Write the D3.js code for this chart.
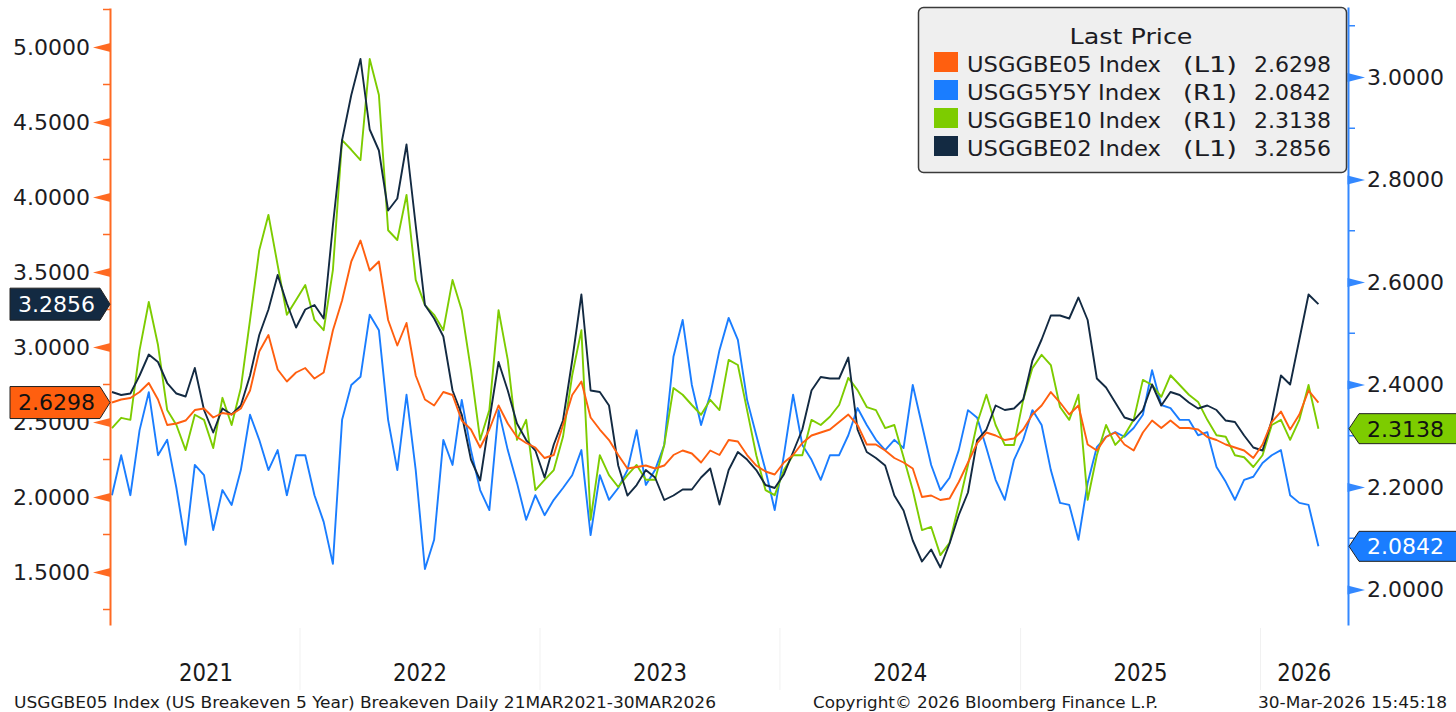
<!DOCTYPE html>
<html><head><meta charset="utf-8">
<script src="https://cdn.jsdelivr.net/npm/d3@7"></script>
<style>body{margin:0;background:#fff;overflow:hidden}</style>
</head><body><svg id="chart" width="1456" height="712"></svg>
<script>
// ---------- data ----------
const startDate = "2021-03-21";
const stepDays = 14;
const lastDate = "2026-03-30";
const seriesNames = ["USGGBE05 Index", "USGG5Y5Y Index", "USGGBE10 Index", "USGGBE02 Index"];
const seriesAxis = ["(L1)", "(R1)", "(R1)", "(L1)"];
const lastPrices = [2.6298, 2.0842, 2.3138, 3.2856];
const leftTicks = [1.5, 2.0, 2.5, 3.0, 3.5, 4.0, 4.5, 5.0];
const leftMinorTicks = [1.25, 1.75, 2.25, 2.75, 3.25, 3.75, 4.25, 4.75, 5.25];
const rightTicks = [2.0, 2.2, 2.4, 2.6, 2.8, 3.0];
const rightMinorTicks = [2.1, 2.3, 2.5, 2.7, 2.9, 3.1];
const years = ["2021", "2022", "2023", "2024", "2025", "2026"];

// USGGBE05 (left axis)
const be05 = [
 2.63,2.65,2.66,2.70,2.76,2.65,2.48,2.49,2.51,2.58,
 2.59,2.53,2.56,2.55,2.59,2.71,2.97,3.08,2.85,2.77,
 2.83,2.86,2.79,2.83,3.11,3.31,3.57,3.71,3.51,3.57,
 3.18,3.01,3.16,2.81,2.65,2.61,2.70,2.68,2.51,2.45,
 2.33,2.45,2.61,2.49,2.40,2.36,2.33,2.26,2.28,2.48,
 2.68,2.77,2.53,2.45,2.38,2.28,2.19,2.20,2.21,2.19,
 2.21,2.28,2.31,2.29,2.23,2.31,2.28,2.38,2.37,2.28,
 2.21,2.17,2.15,2.23,2.28,2.36,2.41,2.43,2.45,2.50,
 2.55,2.48,2.35,2.35,2.31,2.26,2.23,2.19,2.00,2.01,
 1.98,1.99,2.10,2.23,2.36,2.43,2.41,2.38,2.39,2.45,
 2.55,2.61,2.70,2.63,2.55,2.61,2.35,2.31,2.40,2.43,
 2.35,2.31,2.43,2.51,2.46,2.51,2.46,2.46,2.45,2.40,
 2.38,2.35,2.33,2.31,2.26,2.35,2.50,2.57,2.45,2.55,
 2.71,2.6298];
// USGG5Y5Y (right axis)
const g5y5y = [
 2.184,2.262,2.184,2.311,2.385,2.262,2.292,2.198,2.087,2.243,
 2.223,2.116,2.194,2.165,2.233,2.341,2.292,2.233,2.272,2.184,
 2.262,2.262,2.184,2.132,2.050,2.331,2.399,2.415,2.536,2.506,
 2.331,2.233,2.380,2.233,2.040,2.097,2.292,2.243,2.370,2.272,
 2.194,2.155,2.350,2.272,2.208,2.136,2.184,2.145,2.175,2.198,
 2.223,2.272,2.106,2.223,2.175,2.198,2.233,2.311,2.204,2.233,
 2.282,2.454,2.526,2.399,2.321,2.380,2.467,2.530,2.487,2.370,
 2.301,2.233,2.155,2.262,2.380,2.282,2.253,2.214,2.262,2.262,
 2.301,2.354,2.321,2.292,2.272,2.292,2.276,2.399,2.321,2.243,
 2.194,2.218,2.272,2.350,2.335,2.276,2.214,2.175,2.253,2.292,
 2.350,2.321,2.233,2.169,2.165,2.097,2.208,2.278,2.298,2.307,
 2.298,2.315,2.341,2.428,2.360,2.354,2.331,2.331,2.301,2.307,
 2.239,2.210,2.175,2.214,2.220,2.247,2.262,2.272,2.184,2.169,
 2.165,2.0842];
// USGGBE10 (right axis)
const be10 = [
 2.315,2.335,2.331,2.467,2.561,2.477,2.350,2.321,2.272,2.341,
 2.331,2.276,2.374,2.321,2.393,2.526,2.662,2.731,2.633,2.536,
 2.565,2.594,2.526,2.506,2.623,2.877,2.858,2.838,3.035,2.965,
 2.701,2.682,2.770,2.604,2.555,2.536,2.506,2.604,2.545,2.428,
 2.292,2.350,2.545,2.448,2.292,2.331,2.194,2.214,2.233,2.298,
 2.418,2.506,2.136,2.262,2.223,2.200,2.223,2.243,2.214,2.214,
 2.282,2.393,2.380,2.360,2.341,2.370,2.350,2.448,2.438,2.350,
 2.262,2.194,2.184,2.233,2.262,2.262,2.331,2.321,2.337,2.360,
 2.413,2.389,2.356,2.350,2.315,2.321,2.258,2.194,2.116,2.122,
 2.067,2.091,2.165,2.243,2.325,2.380,2.321,2.282,2.282,2.370,
 2.432,2.458,2.438,2.356,2.331,2.380,2.175,2.262,2.321,2.282,
 2.301,2.331,2.409,2.399,2.376,2.418,2.399,2.380,2.366,2.331,
 2.301,2.298,2.262,2.258,2.239,2.262,2.321,2.331,2.292,2.331,
 2.399,2.3138];
// USGGBE02 (left axis)
const be02 = [
 2.70,2.68,2.69,2.81,2.95,2.90,2.76,2.69,2.67,2.86,
 2.58,2.43,2.59,2.55,2.61,2.81,3.08,3.25,3.48,3.29,
 3.13,3.25,3.28,3.19,3.81,4.38,4.68,4.92,4.45,4.31,
 3.91,3.99,4.35,3.81,3.28,3.19,3.07,2.71,2.55,2.25,
 2.11,2.51,2.90,2.71,2.49,2.38,2.31,2.13,2.35,2.51,
 2.91,3.35,2.71,2.70,2.61,2.21,2.01,2.08,2.18,2.13,
 1.98,2.01,2.05,2.05,2.13,2.19,1.95,2.18,2.30,2.25,
 2.18,2.08,2.06,2.15,2.30,2.45,2.71,2.80,2.79,2.79,
 2.93,2.45,2.30,2.26,2.21,2.01,1.91,1.71,1.57,1.65,
 1.53,1.69,1.88,2.03,2.38,2.45,2.61,2.58,2.59,2.65,
 2.91,3.05,3.21,3.21,3.19,3.33,3.18,2.79,2.73,2.63,
 2.53,2.51,2.58,2.75,2.61,2.70,2.68,2.63,2.59,2.61,
 2.58,2.51,2.50,2.41,2.33,2.31,2.51,2.81,2.75,3.05,
 3.35,3.2856];

// ---------- setup ----------
const colors = ["#ff5f0f", "#1a7dff", "#7dcc00", "#132a42"];
const tagText = ["#111", "#fff", "#111", "#fff"];
const svg = d3.select("#chart");
const parse = d3.utcParse("%Y-%m-%d");
const dates = be05.map((_, i) => i === be05.length - 1 ? parse(lastDate) : d3.utcDay.offset(parse(startDate), i * stepDays));

const x = d3.scaleUtc().domain([parse("2021-03-18"), parse("2026-05-14")]).range([110, 1348]);
const yL = d3.scaleLinear().domain([1.1467, 5.26]).range([625, 8]);
const yR = d3.scaleLinear().domain([1.9307, 3.1366]).range([625, 7]);

const FONT = "'DejaVu Sans', Verdana, sans-serif";
const NARROW = "'Liberation Sans Narrow', 'DejaVu Sans Condensed', 'Arial Narrow', sans-serif";

// year separators
const yearStarts = years.map(y => parse(y + "-01-01"));
svg.append("g").selectAll("line").data(yearStarts.slice(1)).join("line")
  .attr("x1", d => x(d)).attr("x2", d => x(d)).attr("y1", 628).attr("y2", 690)
  .attr("stroke", "#f1f1f1").attr("stroke-width", 1);

// year labels
const xmin = x(dates[0]), xmax = x.range()[1];
svg.append("g").selectAll("text").data(years).join("text")
  .attr("x", (d, i) => {
    const a = Math.max(xmin, x(yearStarts[i]));
    const b = Math.min(xmax, x(parse((+d + 1) + "-01-01")));
    return (a + b) / 2;
  })
  .attr("y", 681).attr("text-anchor", "middle")
  .attr("font-family", NARROW).attr("font-size", 25).attr("fill", "#1a1a1a")
  .attr("textLength", 54).attr("lengthAdjust", "spacingAndGlyphs")
  .text(d => d);

// lines
const clip = svg.append("clipPath").attr("id", "clip").append("rect")
  .attr("x", 110).attr("y", 7).attr("width", 1238).attr("height", 619);
const seriesData = [be05, g5y5y, be10, be02];
const seriesScale = [yL, yR, yR, yL];
const drawOrder = [1, 2, 3, 0];
const lg = svg.append("g").attr("clip-path", "url(#clip)");
drawOrder.forEach(k => {
  const sc = seriesScale[k];
  const line = d3.line().x((d, i) => x(dates[i])).y(d => sc(d));
  lg.append("path").datum(seriesData[k]).attr("d", line)
    .attr("fill", "none").attr("stroke", colors[k]).attr("stroke-width", 1.9)
    .attr("stroke-linejoin", "round");
});

// left axis
const axL = svg.append("g").attr("transform", "translate(110,0)")
  .call(d3.axisLeft(yL).tickValues(leftTicks).tickSize(0).tickSizeOuter(0).tickPadding(20).tickFormat(d3.format(".4f")));
axL.select(".domain").attr("stroke", "#ff6a22").attr("stroke-width", 2);
axL.selectAll(".tick text").attr("font-family", FONT).attr("font-size", 22).attr("fill", "#1c1c24");
axL.selectAll(".tick").append("path").attr("d", "M0.5,-4.5L0.5,4.5L-17,0Z").attr("fill", "#ff6a22");
axL.append("g").selectAll("line").data(leftMinorTicks).join("line")
  .attr("x1", -7).attr("x2", 0).attr("y1", d => yL(d)).attr("y2", d => yL(d))
  .attr("stroke", "#ff6a22").attr("stroke-width", 1.5);

// right axis
const axR = svg.append("g").attr("transform", "translate(1348,0)")
  .call(d3.axisRight(yR).tickValues(rightTicks).tickSize(0).tickSizeOuter(0).tickPadding(19).tickFormat(d3.format(".4f")));
axR.select(".domain").attr("stroke", "#3388ff").attr("stroke-width", 2);
axR.selectAll(".tick text").attr("font-family", FONT).attr("font-size", 22).attr("fill", "#1c1c24");
axR.selectAll(".tick").append("path").attr("d", "M-0.5,-4.5L-0.5,4.5L17,0Z").attr("fill", "#3388ff");
axR.append("g").selectAll("line").data(rightMinorTicks).join("line")
  .attr("x1", 0).attr("x2", 7).attr("y1", d => yR(d)).attr("y2", d => yR(d))
  .attr("stroke", "#3388ff").attr("stroke-width", 1.5);

// last value tags
const fmt = d3.format(".4f");
[0, 3].forEach(k => {
  const cy = seriesScale[k](lastPrices[k]);
  const g = svg.append("g");
  g.append("path")
    .attr("d", `M10,${cy - 16}L100,${cy - 16}L110,${cy}L100,${cy + 16}L10,${cy + 16}Z`)
    .attr("fill", colors[k]).attr("stroke", "#222").attr("stroke-width", 1);
  g.append("text").attr("x", 18).attr("y", cy).attr("dy", "0.36em")
    .attr("font-family", FONT).attr("font-size", 22).attr("fill", tagText[k]).text(fmt(lastPrices[k]));
});
[1, 2].forEach(k => {
  const cy = seriesScale[k](lastPrices[k]);
  const g = svg.append("g");
  g.append("path")
    .attr("d", `M1349,${cy}L1359,${cy - 15}L1460,${cy - 15}L1460,${cy + 15}L1359,${cy + 15}Z`)
    .attr("fill", colors[k]).attr("stroke", "#222").attr("stroke-width", 1);
  g.append("text").attr("x", 1367).attr("y", cy).attr("dy", "0.36em")
    .attr("font-family", FONT).attr("font-size", 22).attr("fill", tagText[k]).text(fmt(lastPrices[k]));
});

// legend
const leg = svg.append("g");
leg.append("rect").attr("x", 918.5).attr("y", 7.5).attr("width", 428).attr("height", 165).attr("rx", 5)
  .attr("fill", "#efefef").attr("stroke", "#3a3a3a").attr("stroke-width", 1.5);
leg.append("text").attr("x", 1131).attr("y", 44).attr("text-anchor", "middle")
  .attr("font-family", FONT).attr("font-size", 22).attr("fill", "#1c1c24")
  .attr("textLength", 123).attr("lengthAdjust", "spacingAndGlyphs").text("Last Price");
seriesNames.forEach((name, k) => {
  const by = 72 + k * 28;
  leg.append("rect").attr("x", 934).attr("y", by - 20).attr("width", 24).attr("height", 20).attr("fill", colors[k]);
  leg.append("text").attr("x", 967).attr("y", by).attr("font-family", FONT).attr("font-size", 22)
    .attr("fill", "#1c1c24").attr("textLength", 194).attr("lengthAdjust", "spacingAndGlyphs").text(name);
  leg.append("text").attr("x", 1183).attr("y", by).attr("font-family", FONT).attr("font-size", 22)
    .attr("fill", "#1c1c24").attr("textLength", 54).attr("lengthAdjust", "spacingAndGlyphs").text(seriesAxis[k]);
  leg.append("text").attr("x", 1331).attr("y", by).attr("text-anchor", "end").attr("font-family", FONT)
    .attr("font-size", 22).attr("fill", "#1c1c24").text(fmt(lastPrices[k]));
});

// footer
const foot = [
  {t: "USGGBE05 Index (US Breakeven 5 Year) Breakeven Daily 21MAR2021-30MAR2026", x: 14, w: 702},
  {t: "Copyright\u00A9 2026 Bloomberg Finance L.P.", x: 813, w: 345},
  {t: "30-Mar-2026 15:45:18", x: 1258, w: 189}
];
svg.append("g").selectAll("text").data(foot).join("text")
  .attr("x", d => d.x).attr("y", 708).attr("font-family", NARROW).attr("font-size", 16)
  .attr("fill", "#1a1a1a").attr("textLength", d => d.w).attr("lengthAdjust", "spacingAndGlyphs")
  .text(d => d.t);
</script>
</body></html>
